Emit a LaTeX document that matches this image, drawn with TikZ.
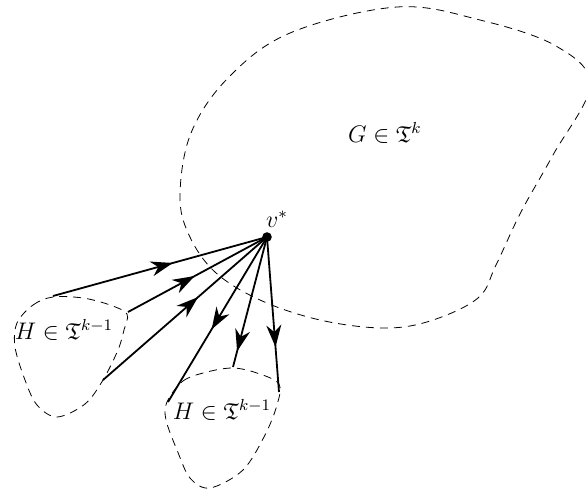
\documentclass[tikz,border=0pt]{standalone}
\usepackage{amssymb}
\usetikzlibrary{arrows.meta,decorations.markings}
\tikzset{
  region/.style={dashed,dash pattern=on 4pt off 3pt,line width=0.4pt},
  edge/.style={line width=0.9pt},
  tipmark/.style={postaction={decorate},decoration={markings,mark=at position #1 with {\arrow{Stealth[length=11pt,width=7.5pt,inset=3.5pt]}}}},
  lbl/.style={inner sep=0pt,font=\fontsize{11.5}{13}\selectfont}
}
\begin{document}
\begin{tikzpicture}[x=0.5pt,y=-0.5pt]
\useasboundingbox (0,0) rectangle (586,494);
\clip (0,0) rectangle (586,494);
% G region
\draw[region] plot[smooth cycle,tension=0.6] coordinates {
(180,195) (191,133) (228,78) (290,33) (397,7) (480,20) (556,46) (590,85) (553,155) (521,212) (496,265) (478,298) (430,321) (383,328) (320,320) (260,300) (215,272) (189,235)};
% left H region
\draw[region] plot[smooth cycle,tension=0.55] coordinates {
(17,323) (33,305) (53,297) (83,298) (110,305) (127,314) (124,330) (118,350) (103,380) (85,404) (57,417) (37,405) (25,380) (15,347)};
% lower H region
\draw[region] plot[smooth cycle,tension=0.55] coordinates {
(167,402) (183,381) (207,372) (233,368) (257,373) (279,384) (277,405) (265,435) (243,470) (210,488) (190,478) (177,450) (166,420)};
% labels
\node[lbl] (G) at (385,133) {$G\in\mathfrak{T}^{k}$};
\node[lbl] (H1) at (64,330) {$H\in\mathfrak{T}^{k-1}$};
\node[lbl] (H2) at (222,410) {$H\in\mathfrak{T}^{k-1}$};
% vertex
\node[circle,fill,inner sep=0pt,minimum size=4.8pt] (v) at (267,237) {};
\node[lbl] (vl) at (277,219) {$v^{*}$};
% end points
\coordinate (a1) at (53,296);
\coordinate (a2) at (128,312);
\coordinate (a3) at (103,380);
\coordinate (a4) at (168,402);
\coordinate (a5) at (233,367);
\coordinate (a6) at (279,392);
% edges
\draw[edge,tipmark=0.56] (a1) -- (v.center);
\draw[edge,tipmark=0.48] (a2) -- (v.center);
\draw[edge,tipmark=0.58] (a3) -- (v.center);
\draw[edge,tipmark=0.56] (v.center) -- (a4);
\draw[edge,tipmark=0.88] (v.center) -- (a5);
\draw[edge,tipmark=0.71] (v.center) -- (a6);
\end{tikzpicture}
\end{document}
